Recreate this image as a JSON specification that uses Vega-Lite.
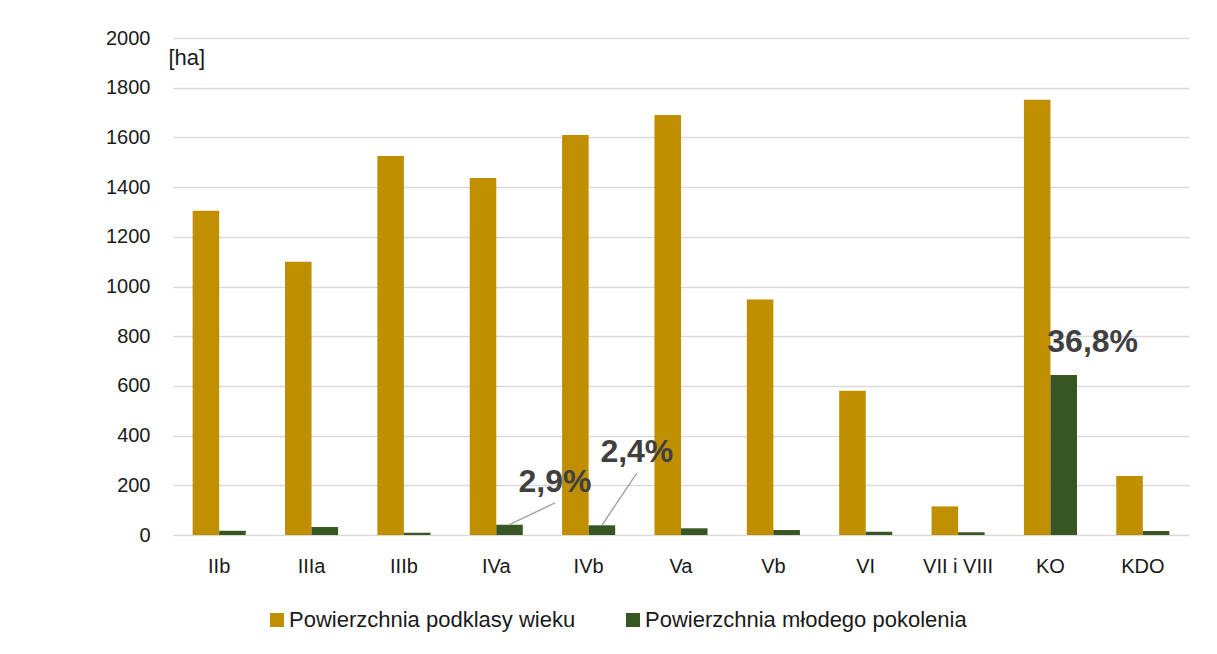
{
  "$schema": "https://vega.github.io/schema/vega-lite/v6.json",
  "width": 1016,
  "height": 497,
  "autosize": {"type": "none"},
  "padding": {"left": 173, "top": 38, "right": 28, "bottom": 119},
  "background": "white",
  "config": {
    "view": {"stroke": null},
    "font": "Liberation Sans"
  },
  "datasets": {
    "bars": [
      {"cat": "IIb", "series": "Powierzchnia podklasy wieku", "value": 1305},
      {"cat": "IIb", "series": "Powierzchnia młodego pokolenia", "value": 17},
      {"cat": "IIIa", "series": "Powierzchnia podklasy wieku", "value": 1100},
      {"cat": "IIIa", "series": "Powierzchnia młodego pokolenia", "value": 32},
      {"cat": "IIIb", "series": "Powierzchnia podklasy wieku", "value": 1525},
      {"cat": "IIIb", "series": "Powierzchnia młodego pokolenia", "value": 9},
      {"cat": "IVa", "series": "Powierzchnia podklasy wieku", "value": 1437},
      {"cat": "IVa", "series": "Powierzchnia młodego pokolenia", "value": 41},
      {"cat": "IVb", "series": "Powierzchnia podklasy wieku", "value": 1610},
      {"cat": "IVb", "series": "Powierzchnia młodego pokolenia", "value": 39},
      {"cat": "Va", "series": "Powierzchnia podklasy wieku", "value": 1690},
      {"cat": "Va", "series": "Powierzchnia młodego pokolenia", "value": 27},
      {"cat": "Vb", "series": "Powierzchnia podklasy wieku", "value": 948},
      {"cat": "Vb", "series": "Powierzchnia młodego pokolenia", "value": 20},
      {"cat": "VI", "series": "Powierzchnia podklasy wieku", "value": 580},
      {"cat": "VI", "series": "Powierzchnia młodego pokolenia", "value": 13},
      {"cat": "VII i VIII", "series": "Powierzchnia podklasy wieku", "value": 115},
      {"cat": "VII i VIII", "series": "Powierzchnia młodego pokolenia", "value": 11},
      {"cat": "KO", "series": "Powierzchnia podklasy wieku", "value": 1752},
      {"cat": "KO", "series": "Powierzchnia młodego pokolenia", "value": 644},
      {"cat": "KDO", "series": "Powierzchnia podklasy wieku", "value": 237},
      {"cat": "KDO", "series": "Powierzchnia młodego pokolenia", "value": 16}
    ],
    "leaders": [
      {"grp": "a", "cat": "IVa", "off": 0.636, "v": 41},
      {"grp": "a", "cat": "IVa", "off": 1.135, "v": 129},
      {"grp": "b", "cat": "IVb", "off": 0.643, "v": 39},
      {"grp": "b", "cat": "IVb", "off": 1.022, "v": 249}
    ],
    "labels": [
      {"cat": "IVa", "off": 1.135, "v": 213, "label": "2,9%"},
      {"cat": "IVb", "off": 1.022, "v": 334, "label": "2,4%"},
      {"cat": "KO", "off": 0.957, "v": 777, "label": "36,8%"}
    ]
  },
  "resolve": {"scale": {"xOffset": "independent"}},
  "layer": [
    {
      "data": {"name": "bars"},
      "mark": {"type": "bar"},
      "encoding": {
        "x": {
          "field": "cat", "type": "nominal",
          "scale": {"domain": ["IIb", "IIIa", "IIIb", "IVa", "IVb", "Va", "Vb", "VI", "VII i VIII", "KO", "KDO"], "paddingInner": 0, "paddingOuter": 0},
          "axis": {"title": null, "labelAngle": 0, "labelFontSize": 20, "labelColor": "#1a1a1a", "labelPadding": 21, "ticks": false, "domain": false, "grid": false}
        },
        "xOffset": {
          "field": "series", "type": "nominal",
          "scale": {"domain": ["Powierzchnia podklasy wieku", "Powierzchnia młodego pokolenia"], "paddingInner": 0, "paddingOuter": 0.74}
        },
        "y": {
          "field": "value", "type": "quantitative",
          "scale": {"domain": [0, 2000], "nice": false},
          "axis": {
            "values": [0, 200, 400, 600, 800, 1000, 1200, 1400, 1600, 1800, 2000],
            "format": "d",
            "title": "[ha]", "titleAngle": 0, "titleAlign": "left", "titleBaseline": "middle",
            "titleX": -5, "titleY": 19, "titleFontSize": 22, "titleFontWeight": "normal", "titleColor": "#1a1a1a",
            "labelFontSize": 20, "labelColor": "#1a1a1a", "labelPadding": 23,
            "ticks": false, "domain": false,
            "grid": true, "gridColor": "#d9d9d9", "gridWidth": 1.5
          }
        },
        "color": {
          "field": "series", "type": "nominal",
          "scale": {"domain": ["Powierzchnia podklasy wieku", "Powierzchnia młodego pokolenia"], "range": ["#BF8F00", "#375623"]},
          "legend": {
            "title": null, "orient": "none", "direction": "horizontal",
            "legendX": 93, "legendY": 571,
            "symbolType": "square", "symbolSize": 196, "symbolStrokeWidth": 0,
            "labelFontSize": 22, "labelColor": "#1a1a1a",
            "labelOffset": 1, "columnPadding": 46, "labelLimit": 500
          }
        }
      }
    },
    {
      "data": {"name": "leaders"},
      "mark": {"type": "line", "color": "#a6a6a6", "strokeWidth": 1.5},
      "encoding": {
        "x": {"field": "cat", "type": "nominal"},
        "xOffset": {"field": "off", "type": "quantitative", "scale": {"domain": [0, 1], "nice": false, "zero": false}},
        "y": {"field": "v", "type": "quantitative"},
        "detail": {"field": "grp"}
      }
    },
    {
      "data": {"name": "labels"},
      "mark": {"type": "text", "font": "Liberation Sans", "fontWeight": "bold", "fontSize": 32, "color": "#404040", "align": "center", "baseline": "middle"},
      "encoding": {
        "x": {"field": "cat", "type": "nominal"},
        "xOffset": {"field": "off", "type": "quantitative", "scale": {"domain": [0, 1], "nice": false, "zero": false}},
        "y": {"field": "v", "type": "quantitative"},
        "text": {"field": "label"}
      }
    }
  ]
}
